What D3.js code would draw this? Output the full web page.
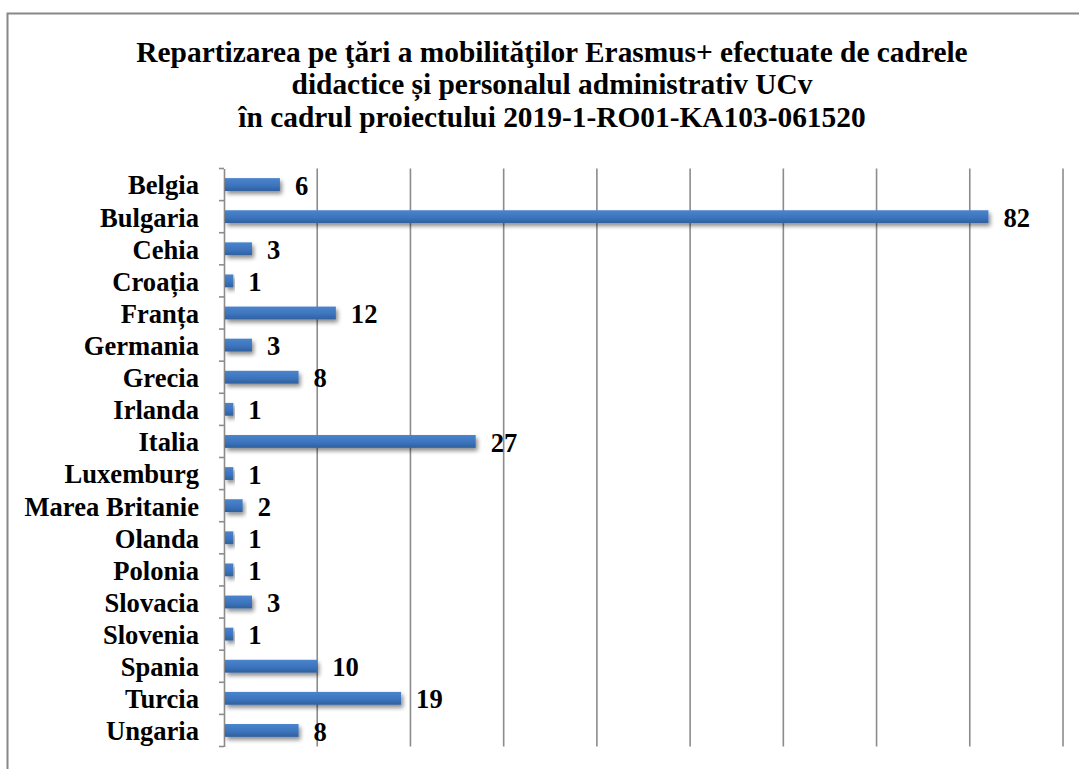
<!DOCTYPE html>
<html>
<head>
<meta charset="utf-8">
<script src="https://cdn.jsdelivr.net/npm/d3@7"></script>
<style>
  body { margin: 0; background: #fff; }
  svg text { font-family: "Liberation Serif", "Times New Roman", serif; font-weight: bold; fill: #000; }
</style>
</head>
<body>
<svg id="chart"></svg>
<script>
const width = 1079, height = 769;

const titleLines = [
  "Repartizarea pe ţări a mobilităţilor Erasmus+ efectuate de cadrele",
  "didactice și personalul administrativ UCv",
  "în cadrul proiectului 2019-1-RO01-KA103-061520"
];
const countries = ["Belgia", "Bulgaria", "Cehia", "Croația", "Franța", "Germania", "Grecia",
  "Irlanda", "Italia", "Luxemburg", "Marea Britanie", "Olanda", "Polonia", "Slovacia",
  "Slovenia", "Spania", "Turcia", "Ungaria"];
const mobilities = [6, 82, 3, 1, 12, 3, 8, 1, 27, 1, 2, 1, 1, 3, 1, 10, 19, 8];
const gridTicks = [0, 10, 20, 30, 40, 50, 60, 70, 80, 90];

const data = countries.map((c, i) => ({ name: c, value: mobilities[i] }));

const svg = d3.select("#chart")
    .attr("width", width)
    .attr("height", height);

const defs = svg.append("defs");
const grad = defs.append("linearGradient")
    .attr("id", "barGrad")
    .attr("x1", 0).attr("y1", 0).attr("x2", 0).attr("y2", 1);
grad.append("stop").attr("offset", "0%").attr("stop-color", "#4a84cc");
grad.append("stop").attr("offset", "55%").attr("stop-color", "#3d75be");
grad.append("stop").attr("offset", "100%").attr("stop-color", "#30609f");

const shadow = defs.append("filter")
    .attr("id", "barShadow")
    .attr("x", "-10%").attr("y", "-50%")
    .attr("width", "130%").attr("height", "250%");
shadow.append("feGaussianBlur").attr("in", "SourceAlpha").attr("stdDeviation", 2);
shadow.append("feOffset").attr("dx", 2).attr("dy", 3).attr("result", "off");
shadow.append("feComponentTransfer").append("feFuncA").attr("type", "linear").attr("slope", 0.45);
const merge = shadow.append("feMerge");
merge.append("feMergeNode");
merge.append("feMergeNode").attr("in", "SourceGraphic");

// chart frame (cut off at right and bottom)
svg.append("path")
    .attr("d", "M7.5,780 V13.5 H1090")
    .attr("fill", "none")
    .attr("stroke", "#888")
    .attr("stroke-width", 2);

// title
svg.append("text")
    .attr("x", 552)
    .attr("text-anchor", "middle")
    .style("font-size", "29.4px")
  .selectAll("tspan")
  .data(titleLines)
  .enter().append("tspan")
    .attr("x", 552)
    .attr("y", (d, i) => 61.5 + i * 32.7)
    .text(d => d);

const plot = { left: 224, right: 1063, top: 168.5, bottom: 746.5 };

const x = d3.scaleLinear()
    .domain([0, 90])
    .range([plot.left, plot.right]);

const y = d3.scaleBand()
    .domain(countries)
    .range([plot.top, plot.bottom])
    .paddingInner(0.6)
    .paddingOuter(0.3);

// vertical gridlines
svg.append("g")
  .selectAll("line")
  .data(gridTicks.slice(1))
  .enter().append("line")
    .attr("x1", d => x(d)).attr("x2", d => x(d))
    .attr("y1", plot.top).attr("y2", plot.bottom)
    .attr("stroke", "#8c8c8c")
    .attr("stroke-width", 1.6);

// category axis
const yAxis = d3.axisLeft(y).tickSize(0).tickPadding(25);
const gy = svg.append("g")
    .attr("transform", `translate(${plot.left},0)`)
    .call(yAxis);
gy.select(".domain")
    .attr("stroke", "#8c8c8c")
    .attr("stroke-width", 1.6);
gy.selectAll("text")
    .style("font-size", "26.6px")
    .style("font-family", "'Liberation Serif', 'Times New Roman', serif")
    .style("font-weight", "bold")
    .attr("fill", "#000")
    .attr("dy", "0.37em");

// category ticks between bands
const tickYs = d3.range(countries.length + 1).map(i => plot.top + i * y.step());
svg.append("g")
  .selectAll("line")
  .data(tickYs)
  .enter().append("line")
    .attr("x1", plot.left - 5).attr("x2", plot.left)
    .attr("y1", d => d).attr("y2", d => d)
    .attr("stroke", "#8c8c8c")
    .attr("stroke-width", 1.6);

// bars
svg.append("g")
  .selectAll("rect")
  .data(data)
  .enter().append("rect")
    .attr("x", x(0) + 1)
    .attr("y", d => y(d.name))
    .attr("width", d => x(d.value) - x(0) - 1)
    .attr("height", y.bandwidth())
    .attr("fill", "url(#barGrad)")
    .attr("filter", "url(#barShadow)");

// value labels
svg.append("g")
  .selectAll("text")
  .data(data)
  .enter().append("text")
    .attr("x", d => x(d.value) + 15)
    .attr("y", d => y(d.name) + y.bandwidth() / 2)
    .attr("dy", "0.38em")
    .style("font-size", "26.6px")
    .text(d => d.value);
</script>
</body>
</html>
